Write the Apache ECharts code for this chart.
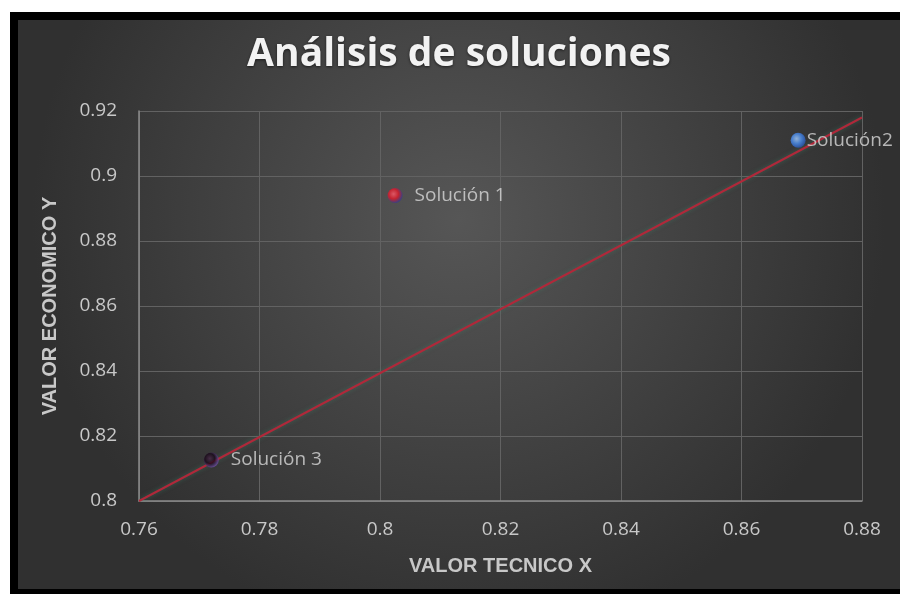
<!DOCTYPE html>
<html>
<head>
<meta charset="utf-8">
<script src="https://cdn.jsdelivr.net/npm/echarts@6/dist/echarts.min.js"></script>
<style>
  html, body { margin: 0; padding: 0; background: #ffffff; }
  #frame { position: absolute; left: 10px; top: 12px; width: 890px; height: 582px; background: #000; }
  #chart { position: absolute; left: 18px; top: 20px; width: 882px; height: 569px; }
</style>
</head>
<body>
<div id="frame"></div>
<div id="chart"></div>
<script>
// Solution points: technical value (x) vs economic value (y)
const solutionNames = ['Solución 1', 'Solución2', 'Solución 3'];
const technicalX = [0.8025, 0.8694, 0.7720];
const economicY = [0.894, 0.911, 0.8126];

// Reference line endpoints
const refLineX = [0.76, 0.88];
const refLineY = [0.80, 0.918];

// Axis ranges
const xMin = 0.76, xMax = 0.88, xStep = 0.02;
const yMin = 0.80, yMax = 0.92, yStep = 0.02;

// Sphere-like fills for each marker
function sphere(light, mid, edge) {
  return new echarts.graphic.RadialGradient(0.4, 0.4, 0.6, [
    { offset: 0, color: light },
    { offset: 0.55, color: mid },
    { offset: 1, color: edge }
  ]);
}
const markerFills = [
  sphere('#ff5a6a', '#e01828', '#3a3a8a'),
  sphere('#a8d0ff', '#4a8ef0', '#2a5ab8'),
  sphere('#4a2a4a', '#180818', '#6a4a9a')
];

const chart = echarts.init(document.getElementById('chart'), null, { renderer: 'canvas' });

const fmt = v => String(Math.round(v * 100) / 100);
const nameFont = { color: '#c8c8c8', fontSize: 20, fontWeight: 'bold', fontFamily: 'Liberation Sans' };
const tickFont = { color: '#c8c8c8', fontSize: 19, fontFamily: 'Open Sans' };

chart.setOption({
  backgroundColor: new echarts.graphic.RadialGradient(0.5, 0.35, 0.75, [
    { offset: 0, color: '#565656' },
    { offset: 1, color: '#303030' }
  ]),
  animation: false,
  title: {
    text: 'Análisis de soluciones',
    left: 'center',
    top: 10,
    textStyle: {
      color: '#f2f2f2',
      fontSize: 39,
      fontWeight: 'bold',
      fontFamily: 'Open Sans',
      textShadowColor: 'rgba(0,0,0,0.6)',
      textShadowBlur: 3,
      textShadowOffsetY: 1
    }
  },
  grid: { left: 121, right: 38, top: 91, bottom: 88 },
  xAxis: {
    type: 'value',
    min: xMin, max: xMax, interval: xStep,
    name: 'VALOR TECNICO X',
    nameLocation: 'middle',
    nameGap: 55,
    nameTextStyle: nameFont,
    axisLine: { show: true, lineStyle: { color: '#8c8c8c', width: 1.5 } },
    axisTick: { show: false },
    axisLabel: Object.assign({ margin: 19, formatter: fmt }, tickFont),
    splitLine: { show: true, lineStyle: { color: '#626262', width: 1 } }
  },
  yAxis: {
    type: 'value',
    min: yMin, max: yMax, interval: yStep,
    name: 'VALOR ECONOMICO Y',
    nameLocation: 'middle',
    nameGap: 79,
    nameTextStyle: nameFont,
    axisLine: { show: true, lineStyle: { color: '#8c8c8c', width: 1.5 } },
    axisTick: { show: false },
    axisLabel: Object.assign({ margin: 22, formatter: fmt }, tickFont),
    splitLine: { show: true, lineStyle: { color: '#626262', width: 1 } }
  },
  series: [
    {
      type: 'line',
      data: refLineX.map((x, i) => [x, refLineY[i]]),
      symbol: 'none',
      lineStyle: { color: '#b0283a', width: 2, shadowColor: 'rgba(60,140,110,0.5)', shadowBlur: 4 },
      z: 2
    },
    {
      type: 'scatter',
      data: technicalX.map((x, i) => ({
        value: [x, economicY[i]],
        name: solutionNames[i],
        itemStyle: { color: markerFills[i] },
        label: { distance: i === 1 ? 1 : 12 }
      })),
      symbolSize: 15,
      label: {
        show: true,
        position: 'right',
        formatter: p => p.name,
        color: '#d8d8d8',
        fontSize: 19,
        fontFamily: 'Open Sans'
      },
      z: 3
    }
  ]
});
</script>
</body>
</html>
